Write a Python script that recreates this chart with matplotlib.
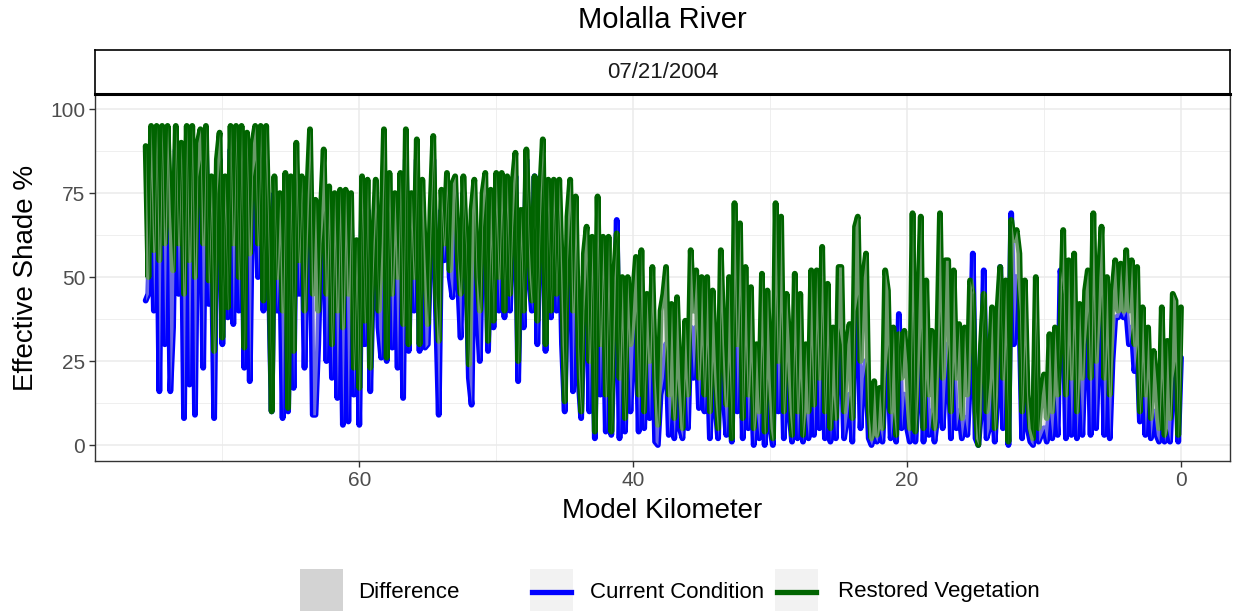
import numpy as np
import matplotlib
matplotlib.use('Agg')
import matplotlib.pyplot as plt
from matplotlib.patches import Rectangle
from matplotlib.lines import Line2D

plt.rcParams['font.family'] = ['Liberation Sans', 'DejaVu Sans']

title = "Molalla River"
facet_label = "07/21/2004"
x_label = "Model Kilometer"
y_label = "Effective Shade %"
legend_labels = ["Difference", "Current Condition", "Restored Vegetation"]
x_ticks = [60, 40, 20, 0]
y_ticks = [0, 25, 50, 75, 100]

# model kilometre of first node and node spacing (km)
km_start = 75.6
km_step = 0.2

# Restored vegetation effective shade (%), upstream -> downstream, by reach
restored_r1 = [89, 50, 95, 58, 95, 55, 95, 60, 95, 70,
               52, 95, 60, 90, 45, 95, 55, 95, 50, 90,
               94, 60, 95, 49, 80, 28, 85, 93, 32, 80,
               41, 95, 60, 95, 50, 95, 29, 93, 57, 90,
               95, 60, 95, 43, 95, 60, 10, 80, 50, 75,
               40, 81, 11, 80, 28, 90, 55, 80, 40, 75,
               94, 45]
restored_r2 = [73, 40, 70, 88, 45, 77, 30, 75, 40, 76,
               35, 76, 45, 75, 23, 61, 17, 80, 37, 79,
               23, 60, 79, 40, 60, 94, 26, 81, 45, 75,
               50, 81, 36, 94, 30, 75, 50, 91, 30, 79,
               55, 36, 70, 92, 45, 31, 76, 60, 81, 52,
               78, 80, 55, 45, 80, 60, 24, 70, 79, 50,
               40, 75, 81, 31]
restored_r3 = [76, 37, 81, 50, 81, 40, 80, 45, 78, 87,
               25, 70, 40, 88, 60, 43, 80, 37, 75, 91,
               30, 79, 40, 79, 45, 79, 50, 13, 68, 79,
               40, 74, 30, 10, 57, 65, 25, 62, 4, 74,
               30, 62, 15, 62, 4, 50, 63, 20, 50, 8,
               50, 30, 45, 56, 15, 58, 10, 45, 25, 53,
               20, 6, 40, 45]
restored_r4 = [53, 15, 42, 8, 44, 20, 5, 37, 15, 58,
               40, 52, 20, 50, 15, 50, 10, 46, 25, 5,
               58, 30, 12, 50, 2, 72, 30, 66, 8, 53,
               15, 47, 5, 30, 10, 51, 4, 46, 20, 2,
               72, 25, 68, 10, 45, 30, 3, 51, 10, 45,
               3, 30, 10, 52, 12, 52, 20, 59, 10, 48,
               5, 35, 8, 53]
restored_r5 = [53, 10, 30, 36, 8, 65, 68, 25, 50, 57,
               10, 2, 19, 3, 17, 5, 52, 46, 10, 35,
               3, 33, 20, 34, 24, 5, 69, 4, 40, 68,
               5, 49, 15, 34, 5, 29, 69, 20, 55, 55,
               10, 52, 20, 36, 8, 35, 15, 49, 45, 10,
               0, 30, 45, 10, 20, 41, 5, 40, 53, 20,
               49, 1, 67, 61]
restored_r6 = [64, 57, 10, 49, 15, 5, 2, 50, 5, 15,
               21, 8, 33, 10, 35, 15, 35, 64, 15, 55,
               20, 57, 10, 42, 20, 46, 52, 20, 69, 25,
               50, 65, 20, 50, 15, 46, 55, 40, 54, 40,
               58, 40, 55, 30, 53, 10, 41, 15, 35, 8,
               28, 18, 5, 41, 3, 31, 8, 45, 43, 3,
               41]

# Current condition effective shade (%), by reach
current_r1 = [43, 45, 80, 40, 88, 16, 90, 30, 85, 16,
              35, 88, 45, 85, 8, 90, 18, 88, 9, 80,
              85, 23, 90, 42, 70, 8, 75, 85, 30, 70,
              38, 88, 36, 90, 40, 85, 23, 88, 19, 80,
              85, 50, 88, 40, 85, 50, 10, 75, 40, 60,
              8, 75, 10, 70, 17, 80, 45, 75, 23, 60,
              85, 9]
current_r2 = [9, 30, 60, 70, 25, 65, 20, 60, 14, 65,
              6, 60, 7, 65, 15, 50, 6, 70, 30, 70,
              16, 50, 70, 35, 26, 85, 25, 70, 29, 60,
              23, 75, 14, 85, 28, 65, 40, 85, 28, 70,
              29, 30, 60, 85, 40, 9, 70, 55, 75, 50,
              44, 75, 50, 32, 75, 55, 20, 12, 70, 40,
              25, 65, 75, 28]
current_r3 = [60, 35, 70, 40, 70, 38, 70, 40, 65, 80,
              19, 60, 35, 85, 50, 40, 80, 30, 65, 85,
              28, 70, 38, 70, 40, 70, 30, 10, 55, 70,
              16, 60, 20, 8, 40, 55, 10, 50, 2, 60,
              15, 50, 4, 45, 3, 30, 67, 2, 35, 4,
              35, 10, 30, 40, 4, 45, 5, 30, 8, 40,
              1, 0, 15, 20]
current_r4 = [30, 3, 15, 2, 20, 5, 2, 20, 5, 35,
              20, 35, 11, 30, 10, 30, 2, 25, 12, 2,
              40, 15, 3, 25, 1, 50, 10, 45, 2, 30,
              5, 25, 0, 10, 2, 30, 0, 20, 5, 0,
              45, 10, 40, 2, 25, 10, 1, 30, 2, 20,
              1, 10, 2, 30, 3, 35, 5, 40, 2, 30,
              1, 15, 2, 35]
current_r5 = [30, 2, 8, 15, 1, 40, 45, 5, 20, 25,
              2, 0, 3, 1, 5, 1, 20, 30, 2, 10,
              1, 39, 5, 15, 5, 1, 40, 1, 15, 35,
              1, 20, 3, 10, 1, 8, 40, 5, 20, 30,
              2, 25, 5, 10, 2, 8, 3, 20, 57, 2,
              0, 10, 52, 2, 5, 20, 1, 15, 53, 5,
              30, 0, 69, 30]
current_r6 = [50, 40, 2, 30, 5, 1, 0, 37, 1, 3,
              5, 1, 10, 2, 15, 3, 52, 45, 2, 30,
              3, 35, 2, 20, 3, 30, 40, 3, 45, 5,
              30, 45, 3, 30, 2, 25, 38, 38, 40, 38,
              40, 30, 35, 22, 30, 7, 25, 3, 20, 2,
              10, 3, 1, 20, 1, 5, 1, 20, 25, 1,
              26]

restored = np.array(restored_r1 + restored_r2 + restored_r3 +
                    restored_r4 + restored_r5 + restored_r6, dtype=float)
current = np.array(current_r1 + current_r2 + current_r3 +
                   current_r4 + current_r5 + current_r6, dtype=float)
assert len(restored) == len(current)
km = np.round(km_start - km_step * np.arange(len(restored)), 2)

W, H = 1236, 611
fig = plt.figure(figsize=(W / 100, H / 100), dpi=100)
fig.patch.set_facecolor('white')

# panel
pl, pr, pt, pb = 95, 1230, 94, 461
ax = fig.add_axes([pl / W, 1 - pb / H, (pr - pl) / W, (pb - pt) / H])
ax.set_facecolor('white')
ax.plot(km, current, color='#0000FF', lw=4.2, solid_joinstyle='round',
        solid_capstyle='round', zorder=2)
ax.plot(km, restored, color='#006400', lw=4.2, solid_joinstyle='round',
        solid_capstyle='round', zorder=3)
ax.fill_between(km, current, restored, color='#D3D3D3', alpha=0.5, lw=0, zorder=4)

ax.set_xlim(79.3, -3.58)
ax.set_ylim(-4.76, 104.5)
ax.set_xticks(x_ticks)
ax.set_yticks(y_ticks)
ax.set_xticks([70, 50, 30, 10], minor=True)
ax.set_yticks([12.5, 37.5, 62.5, 87.5], minor=True)
ax.grid(which='major', color='#EBEBEB', lw=1.1, zorder=0)
ax.grid(which='minor', color='#EBEBEB', lw=0.55, zorder=0)
ax.set_axisbelow(True)
ax.tick_params(which='major', length=4, width=1, color='#333333',
               labelsize=15, labelcolor='#4D4D4D', pad=3)
ax.tick_params(which='minor', length=0)
for s in ax.spines.values():
    s.set_color('#333333')
    s.set_linewidth(1.0)
ax.set_xlabel(x_label, fontsize=20, color='black', labelpad=6)
ax.set_ylabel(y_label, fontsize=20, color='black', labelpad=8)

# facet strip
st = 50
sax = fig.add_axes([pl / W, 1 - pt / H, (pr - pl) / W, (pt - st) / H])
sax.set_xticks([])
sax.set_yticks([])
sax.set_facecolor('white')
for s in sax.spines.values():
    s.set_color('black')
    s.set_linewidth(1.2)
sax.spines['bottom'].set_linewidth(2.2)
sax.text(0.5, 0.5, facet_label, ha='center', va='center', fontsize=16,
         color='#1A1A1A', transform=sax.transAxes)

fig.text(0.5 * (pl + pr) / W, 1 - 20 / H, title, ha='center', va='center',
         fontsize=21, color='black')

# legend (bottom)
ky0, ky1 = 569, 611
keys = [(300, 343), (530, 573), (775, 818)]
label_x = [358, 590, 838]
ly = 592
for i, (k0, k1) in enumerate(keys):
    fig.add_artist(Rectangle((k0 / W, 1 - ky1 / H), (k1 - k0) / W, (ky1 - ky0) / H,
                             transform=fig.transFigure, facecolor='#F2F2F2',
                             edgecolor='none'))
fig.add_artist(Rectangle((keys[0][0] / W, 1 - ky1 / H), (keys[0][1] - keys[0][0]) / W,
                         (ky1 - ky0) / H, transform=fig.transFigure,
                         facecolor='#D3D3D3', edgecolor='none'))
for (k0, k1), col in zip(keys[1:], ['#0000FF', '#006400']):
    fig.add_artist(Line2D([(k0 + 2) / W, (k1 - 2) / W], [1 - ly / H, 1 - ly / H],
                          transform=fig.transFigure, color=col, lw=3.8))
for lx, lab in zip(label_x, legend_labels):
    fig.text(lx / W, 1 - ly / H, lab, ha='left', va='center', fontsize=16,
             color='black')

fig.savefig('out.png', dpi=100)
